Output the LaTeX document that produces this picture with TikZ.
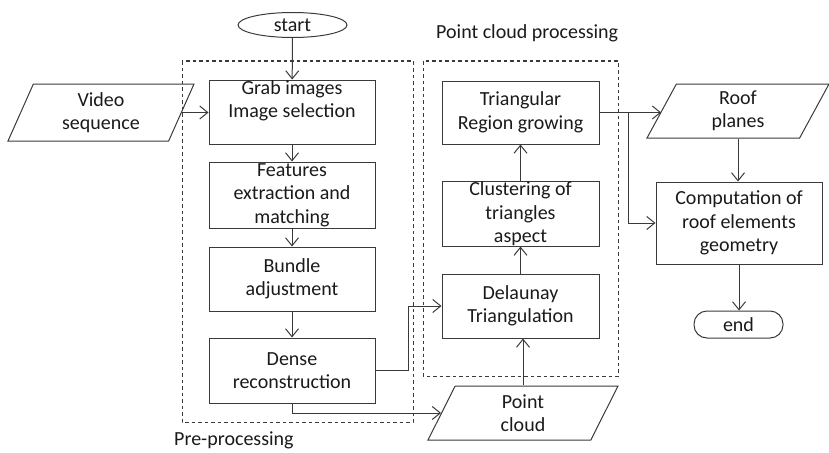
\documentclass[tikz,border=0pt]{standalone}
\usepackage{fontspec}
\setmainfont{Carlito}
\usetikzlibrary{arrows.meta,shapes.geometric}
\definecolor{linec}{HTML}{3A3A3A}
\definecolor{txt}{HTML}{1A1A1A}
\begin{document}
\begin{tikzpicture}[x=1pt,y=-1pt,
  font=\fontsize{20}{23.5}\selectfont,
  box/.style={draw=linec,line width=1pt,rectangle,align=center,text=txt,inner sep=0pt},
  para/.style={draw=linec,line width=1pt,trapezium,trapezium stretches body,align=center,text=txt,inner sep=0pt},
  arr/.style={draw=linec,line width=1pt,-{Straight Barb[length=8pt,width=13pt]}},
  grp/.style={draw=linec,line width=1pt,dash pattern=on 3.5pt off 3pt}]
\useasboundingbox (0,0) rectangle (829,452);
% groups
\draw[grp] (182,61) rectangle (413,422);
\draw[grp] (423,61) rectangle (618,376);
\node[anchor=west,text=txt,inner sep=0pt] (lblpc) at (436,33) {Point cloud processing};
\node[anchor=west,text=txt,inner sep=0pt] (lblpre) at (174,440) {Pre-processing};
% nodes
\node[ellipse,draw=linec,line width=1pt,minimum width=109pt,minimum height=25pt,inner sep=0pt,text=txt] (start) at (292.5,25) {start};
\node[box,minimum width=166pt,minimum height=64pt] (grab) at (292,112) {};
\node[align=center,text=txt,inner sep=0pt] (grabtxt) at (292,101) {Grab images\\Image selection};
\node[box,minimum width=166pt,minimum height=66pt] (feat) at (292,195) {Features\\extraction and\\matching};
\node[box,minimum width=166pt,minimum height=64pt] (bundle) at (292,279) {Bundle\\adjustment};
\node[box,minimum width=166pt,minimum height=65pt] (dense) at (292,370.5) {Dense\\reconstruction};
\node[box,minimum width=157pt,minimum height=63pt] (tri) at (520.5,112.5) {Triangular\\Region growing};
\node[box,minimum width=157pt,minimum height=64pt] (clus) at (520.5,214) {Clustering of\\triangles\\aspect};
\node[box,minimum width=157pt,minimum height=64pt] (del) at (520.5,306) {Delaunay\\Triangulation};
\node[box,minimum width=166pt,minimum height=82pt] (comp) at (739,223) {Computation of\\roof elements\\geometry};
\node[draw=linec,line width=1pt,rounded corners=13pt,minimum width=89pt,minimum height=27pt,inner sep=0pt,text=txt] (end) at (738.5,324.5) {end};
\node[para,trapezium left angle=58,trapezium right angle=122,minimum width=186pt,minimum height=57pt] (video) at (101,112.5) {Video\\sequence};
\node[para,trapezium left angle=54,trapezium right angle=126,minimum width=182pt,minimum height=54pt] (roof) at (738,111) {Roof\\planes};
\node[para,trapezium left angle=54,trapezium right angle=126,minimum width=190pt,minimum height=54pt] (pc) at (523,413) {Point\\cloud};
% connectors
\draw[arr] (start) -- (grab);
\draw[arr] (video.east) -- (video.east -| grab.west);
\draw[arr] (grab) -- (feat);
\draw[arr] (feat) -- (bundle);
\draw[arr] (bundle) -- (dense);
\draw[arr] (dense.east) -- ++(33,0) |- (del.west);
\draw[arr] (dense.south) |- (pc.west);
\draw[arr] (pc.north) -- (pc.north |- del.south);
\draw[arr] (del) -- (clus);
\draw[arr] (clus) -- (tri);
\draw[arr] (tri.east) -- (tri.east -| roof.west);
\coordinate (br) at (628,113);
\draw[arr] (br) |- (comp.west);
\draw[arr] (roof.south) -- (roof.south |- comp.north);
\draw[arr] (comp.south) -- (comp.south |- end.north);
\end{tikzpicture}
\end{document}
